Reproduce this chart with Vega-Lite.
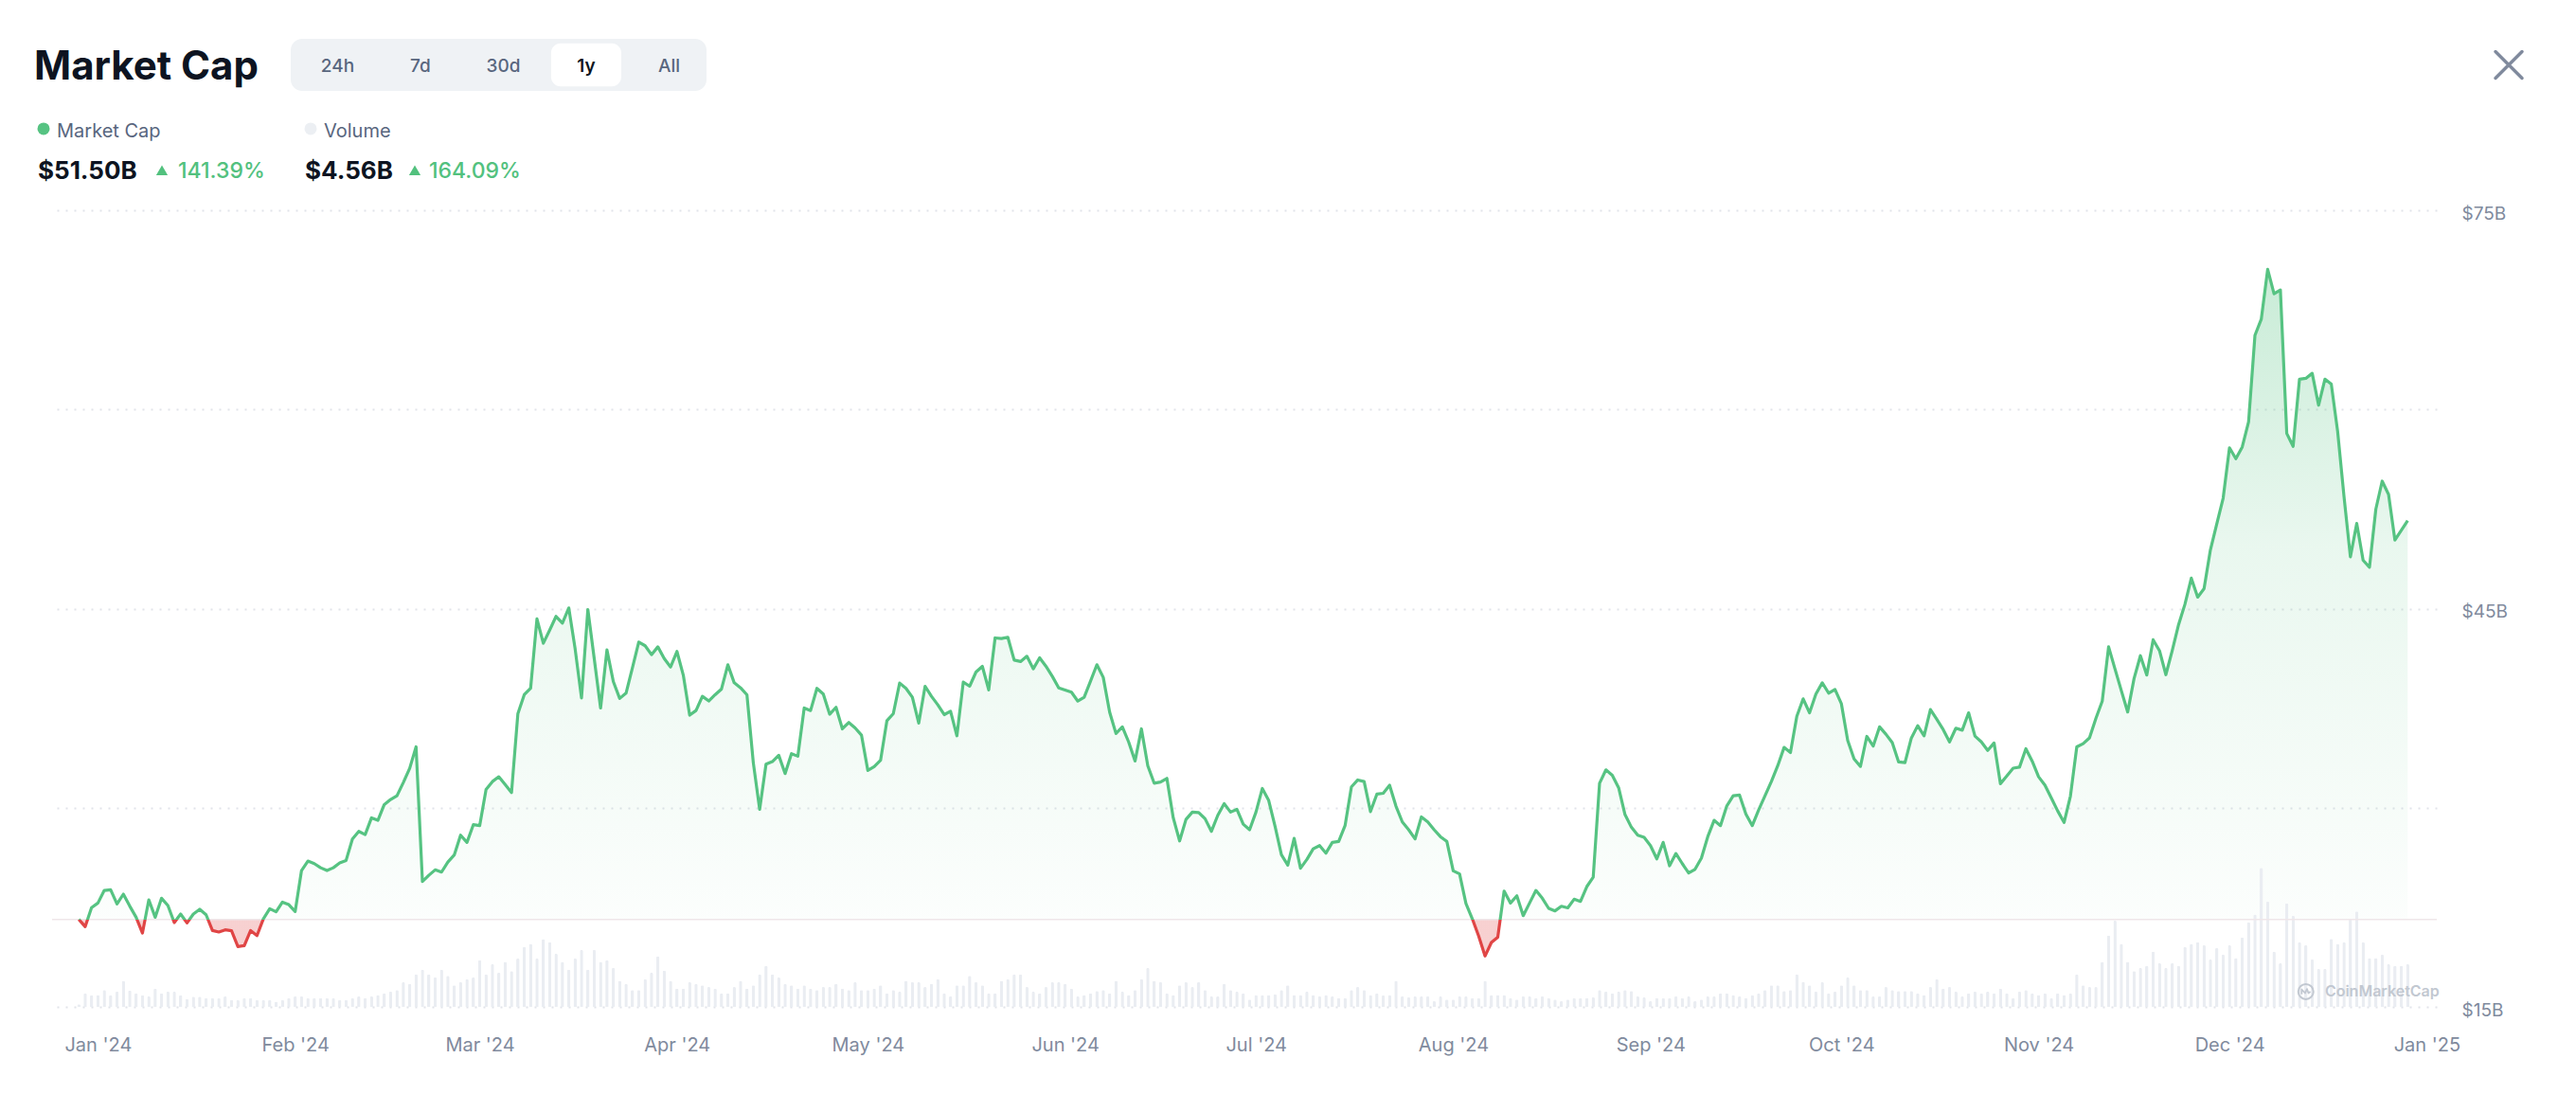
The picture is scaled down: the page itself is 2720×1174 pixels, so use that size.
{
  "$schema": "https://vega.github.io/schema/vega-lite/v6.json",
  "background": "white",
  "padding": {"left": 36, "top": 41, "right": 57, "bottom": 10},
  "config": {"view": {"stroke": null}, "font": "Inter", "concat": {"spacing": 0}},
  "datasets": {
    "buttons": [
      {"label": "24h"}, {"label": "7d"}, {"label": "30d"}, {"label": "1y"}, {"label": "All"}
    ],
    "legend": [
      {"series": "Market Cap", "value": "$51.50B", "change": "141.39%"},
      {"series": "Volume", "value": "$4.56B", "change": "164.09%"}
    ],
    "cap": [
      {"d":"2023-12-29","mc":21.59,"v":0.27},{"d":"2023-12-30","mc":21.04,"v":1.45},{"d":"2023-12-31","mc":22.47,"v":1.25},
      {"d":"2024-01-01","mc":22.82,"v":1.28},{"d":"2024-01-02","mc":23.77,"v":1.79},{"d":"2024-01-03","mc":23.82,"v":1.25},{"d":"2024-01-04","mc":22.75,"v":1.62},{"d":"2024-01-05","mc":23.49,"v":2.80},{"d":"2024-01-06","mc":22.59,"v":1.76},{"d":"2024-01-07","mc":21.75,"v":1.45},{"d":"2024-01-08","mc":20.56,"v":1.25},{"d":"2024-01-09","mc":23.06,"v":1.11},{"d":"2024-01-10","mc":21.75,"v":1.96},
      {"d":"2024-01-11","mc":23.18,"v":1.45},{"d":"2024-01-12","mc":22.63,"v":1.62},{"d":"2024-01-13","mc":21.35,"v":1.62},{"d":"2024-01-14","mc":21.99,"v":1.25},{"d":"2024-01-15","mc":21.32,"v":0.84},{"d":"2024-01-16","mc":21.99,"v":1.08},{"d":"2024-01-17","mc":22.35,"v":1.08},{"d":"2024-01-18","mc":21.94,"v":0.95},{"d":"2024-01-19","mc":20.75,"v":0.95},{"d":"2024-01-20","mc":20.64,"v":0.95},
      {"d":"2024-01-21","mc":20.80,"v":1.11},{"d":"2024-01-22","mc":20.73,"v":0.74},{"d":"2024-01-23","mc":19.54,"v":0.74},{"d":"2024-01-24","mc":19.61,"v":0.95},{"d":"2024-01-25","mc":20.75,"v":0.95},{"d":"2024-01-26","mc":20.37,"v":0.74},{"d":"2024-01-27","mc":21.63,"v":0.74},{"d":"2024-01-28","mc":22.39,"v":0.74},{"d":"2024-01-29","mc":22.16,"v":0.57},{"d":"2024-01-30","mc":22.89,"v":0.74},{"d":"2024-01-31","mc":22.70,"v":0.95},
      {"d":"2024-02-01","mc":22.18,"v":1.11},{"d":"2024-02-02","mc":25.27,"v":1.11},{"d":"2024-02-03","mc":25.98,"v":0.95},{"d":"2024-02-04","mc":25.79,"v":0.95},{"d":"2024-02-05","mc":25.48,"v":0.95},{"d":"2024-02-06","mc":25.27,"v":0.95},{"d":"2024-02-07","mc":25.48,"v":0.95},{"d":"2024-02-08","mc":25.84,"v":0.74},{"d":"2024-02-09","mc":26.03,"v":0.74},{"d":"2024-02-10","mc":27.65,"v":0.95},
      {"d":"2024-02-11","mc":28.22,"v":1.11},{"d":"2024-02-12","mc":27.98,"v":0.95},{"d":"2024-02-13","mc":29.24,"v":1.11},{"d":"2024-02-14","mc":29.05,"v":1.28},{"d":"2024-02-15","mc":30.24,"v":1.45},{"d":"2024-02-16","mc":30.62,"v":1.62},{"d":"2024-02-17","mc":30.90,"v":1.79},{"d":"2024-02-18","mc":31.90,"v":2.63},{"d":"2024-02-19","mc":32.97,"v":2.47},{"d":"2024-02-20","mc":34.59,"v":3.48},
      {"d":"2024-02-21","mc":24.44,"v":3.98},{"d":"2024-02-22","mc":24.91,"v":3.48},{"d":"2024-02-23","mc":25.32,"v":3.14},{"d":"2024-02-24","mc":25.15,"v":3.98},{"d":"2024-02-25","mc":25.91,"v":3.31},{"d":"2024-02-26","mc":26.44,"v":2.30},{"d":"2024-02-27","mc":27.93,"v":2.63},{"d":"2024-02-28","mc":27.39,"v":2.97},{"d":"2024-02-29","mc":28.72,"v":3.14},
      {"d":"2024-03-01","mc":28.65,"v":5.00},{"d":"2024-03-02","mc":31.38,"v":3.48},{"d":"2024-03-03","mc":31.97,"v":4.56},{"d":"2024-03-04","mc":32.33,"v":3.65},{"d":"2024-03-05","mc":31.74,"v":4.83},{"d":"2024-03-06","mc":31.14,"v":3.82},{"d":"2024-03-07","mc":37.08,"v":5.17},{"d":"2024-03-08","mc":38.51,"v":6.42},{"d":"2024-03-09","mc":38.99,"v":6.75},{"d":"2024-03-10","mc":44.22,"v":5.17},
      {"d":"2024-03-11","mc":42.39,"v":7.26},{"d":"2024-03-12","mc":43.38,"v":6.92},{"d":"2024-03-13","mc":44.41,"v":5.67},{"d":"2024-03-14","mc":43.91,"v":4.83},{"d":"2024-03-15","mc":45.05,"v":3.98},{"d":"2024-03-16","mc":41.96,"v":5.17},{"d":"2024-03-17","mc":38.27,"v":6.08},{"d":"2024-03-18","mc":44.93,"v":3.98},{"d":"2024-03-19","mc":41.24,"v":6.08},{"d":"2024-03-20","mc":37.51,"v":4.83},
      {"d":"2024-03-21","mc":41.89,"v":5.00},{"d":"2024-03-22","mc":39.51,"v":4.15},{"d":"2024-03-23","mc":38.23,"v":2.80},{"d":"2024-03-24","mc":38.63,"v":2.47},{"d":"2024-03-25","mc":40.53,"v":1.79},{"d":"2024-03-26","mc":42.48,"v":1.79},{"d":"2024-03-27","mc":42.20,"v":2.97},{"d":"2024-03-28","mc":41.53,"v":3.65},{"d":"2024-03-29","mc":42.12,"v":5.40},{"d":"2024-03-30","mc":41.24,"v":3.88},{"d":"2024-03-31","mc":40.60,"v":2.80},
      {"d":"2024-04-01","mc":41.77,"v":1.96},{"d":"2024-04-02","mc":39.98,"v":1.96},{"d":"2024-04-03","mc":36.97,"v":2.63},{"d":"2024-04-04","mc":37.32,"v":2.47},{"d":"2024-04-05","mc":38.39,"v":2.30},{"d":"2024-04-06","mc":38.04,"v":2.13},{"d":"2024-04-07","mc":38.51,"v":1.96},{"d":"2024-04-08","mc":38.94,"v":1.45},{"d":"2024-04-09","mc":40.77,"v":1.45},{"d":"2024-04-10","mc":39.41,"v":2.13},
      {"d":"2024-04-11","mc":39.03,"v":2.80},{"d":"2024-04-12","mc":38.51,"v":1.96},{"d":"2024-04-13","mc":33.40,"v":2.30},{"d":"2024-04-14","mc":29.88,"v":3.48},{"d":"2024-04-15","mc":33.28,"v":4.39},{"d":"2024-04-16","mc":33.47,"v":3.48},{"d":"2024-04-17","mc":33.95,"v":3.14},{"d":"2024-04-18","mc":32.57,"v":2.47},{"d":"2024-04-19","mc":34.07,"v":2.30},{"d":"2024-04-20","mc":33.88,"v":1.96},
      {"d":"2024-04-21","mc":37.51,"v":2.30},{"d":"2024-04-22","mc":37.32,"v":1.96},{"d":"2024-04-23","mc":38.99,"v":1.79},{"d":"2024-04-24","mc":38.56,"v":2.13},{"d":"2024-04-25","mc":37.04,"v":2.13},{"d":"2024-04-26","mc":37.56,"v":2.47},{"d":"2024-04-27","mc":35.94,"v":1.96},{"d":"2024-04-28","mc":36.42,"v":1.79},{"d":"2024-04-29","mc":36.01,"v":2.63},{"d":"2024-04-30","mc":35.47,"v":1.79},
      {"d":"2024-05-01","mc":32.81,"v":1.79},{"d":"2024-05-02","mc":33.09,"v":1.96},{"d":"2024-05-03","mc":33.57,"v":2.30},{"d":"2024-05-04","mc":36.56,"v":1.45},{"d":"2024-05-05","mc":37.08,"v":1.79},{"d":"2024-05-06","mc":39.39,"v":1.62},{"d":"2024-05-07","mc":38.99,"v":2.80},{"d":"2024-05-08","mc":38.32,"v":2.63},{"d":"2024-05-09","mc":36.37,"v":2.63},{"d":"2024-05-10","mc":39.15,"v":2.13},
      {"d":"2024-05-11","mc":38.39,"v":2.47},{"d":"2024-05-12","mc":37.75,"v":2.97},{"d":"2024-05-13","mc":37.01,"v":1.45},{"d":"2024-05-14","mc":37.27,"v":1.11},{"d":"2024-05-15","mc":35.42,"v":2.30},{"d":"2024-05-16","mc":39.46,"v":2.30},{"d":"2024-05-17","mc":39.15,"v":3.31},{"d":"2024-05-18","mc":40.22,"v":2.63},{"d":"2024-05-19","mc":40.65,"v":2.30},{"d":"2024-05-20","mc":38.87,"v":1.45},
      {"d":"2024-05-21","mc":42.79,"v":1.45},{"d":"2024-05-22","mc":42.74,"v":2.80},{"d":"2024-05-23","mc":42.84,"v":2.97},{"d":"2024-05-24","mc":41.12,"v":3.48},{"d":"2024-05-25","mc":41.01,"v":3.48},{"d":"2024-05-26","mc":41.41,"v":2.13},{"d":"2024-05-27","mc":40.46,"v":1.62},{"d":"2024-05-28","mc":41.29,"v":1.45},{"d":"2024-05-29","mc":40.65,"v":2.13},{"d":"2024-05-30","mc":39.89,"v":2.63},{"d":"2024-05-31","mc":39.03,"v":2.63},
      {"d":"2024-06-01","mc":38.87,"v":2.47},{"d":"2024-06-02","mc":38.70,"v":1.96},{"d":"2024-06-03","mc":38.03,"v":1.11},{"d":"2024-06-04","mc":38.32,"v":1.28},{"d":"2024-06-05","mc":39.53,"v":1.45},{"d":"2024-06-06","mc":40.77,"v":1.69},{"d":"2024-06-07","mc":39.82,"v":1.79},{"d":"2024-06-08","mc":37.20,"v":1.45},{"d":"2024-06-09","mc":35.59,"v":2.80},{"d":"2024-06-10","mc":36.09,"v":1.62},
      {"d":"2024-06-11","mc":34.94,"v":1.28},{"d":"2024-06-12","mc":33.52,"v":1.79},{"d":"2024-06-13","mc":35.94,"v":2.97},{"d":"2024-06-14","mc":33.16,"v":4.15},{"d":"2024-06-15","mc":31.85,"v":2.80},{"d":"2024-06-16","mc":31.93,"v":2.63},{"d":"2024-06-17","mc":32.21,"v":1.45},{"d":"2024-06-18","mc":29.24,"v":1.28},{"d":"2024-06-19","mc":27.50,"v":2.30},{"d":"2024-06-20","mc":29.12,"v":2.63},
      {"d":"2024-06-21","mc":29.67,"v":2.13},{"d":"2024-06-22","mc":29.64,"v":2.63},{"d":"2024-06-23","mc":29.17,"v":1.79},{"d":"2024-06-24","mc":28.22,"v":1.11},{"d":"2024-06-25","mc":29.43,"v":1.11},{"d":"2024-06-26","mc":30.31,"v":2.47},{"d":"2024-06-27","mc":29.67,"v":1.79},{"d":"2024-06-28","mc":29.88,"v":1.62},{"d":"2024-06-29","mc":28.76,"v":1.45},{"d":"2024-06-30","mc":28.34,"v":0.78},
      {"d":"2024-07-01","mc":29.67,"v":1.28},{"d":"2024-07-02","mc":31.45,"v":1.28},{"d":"2024-07-03","mc":30.55,"v":1.28},{"d":"2024-07-04","mc":28.60,"v":1.35},{"d":"2024-07-05","mc":26.46,"v":1.79},{"d":"2024-07-06","mc":25.67,"v":2.30},{"d":"2024-07-07","mc":27.69,"v":1.28},{"d":"2024-07-08","mc":25.44,"v":1.28},{"d":"2024-07-09","mc":26.10,"v":1.62},{"d":"2024-07-10","mc":26.91,"v":1.28},
      {"d":"2024-07-11","mc":27.15,"v":1.11},{"d":"2024-07-12","mc":26.58,"v":1.28},{"d":"2024-07-13","mc":27.39,"v":1.11},{"d":"2024-07-14","mc":27.46,"v":0.95},{"d":"2024-07-15","mc":28.65,"v":0.95},{"d":"2024-07-16","mc":31.57,"v":1.79},{"d":"2024-07-17","mc":32.09,"v":2.13},{"d":"2024-07-18","mc":31.97,"v":1.79},{"d":"2024-07-19","mc":29.71,"v":1.28},{"d":"2024-07-20","mc":31.02,"v":1.45},
      {"d":"2024-07-21","mc":31.09,"v":1.22},{"d":"2024-07-22","mc":31.69,"v":1.28},{"d":"2024-07-23","mc":30.12,"v":2.80},{"d":"2024-07-24","mc":28.93,"v":1.11},{"d":"2024-07-25","mc":28.34,"v":1.01},{"d":"2024-07-26","mc":27.65,"v":1.11},{"d":"2024-07-27","mc":29.31,"v":1.11},{"d":"2024-07-28","mc":28.93,"v":1.11},{"d":"2024-07-29","mc":28.34,"v":0.61},{"d":"2024-07-30","mc":27.81,"v":1.11},{"d":"2024-07-31","mc":27.46,"v":0.78},
      {"d":"2024-08-01","mc":25.25,"v":0.78},{"d":"2024-08-02","mc":25.01,"v":1.11},{"d":"2024-08-03","mc":22.78,"v":1.11},{"d":"2024-08-04","mc":21.63,"v":0.95},{"d":"2024-08-05","mc":20.33,"v":0.95},{"d":"2024-08-06","mc":18.83,"v":2.80},{"d":"2024-08-07","mc":19.85,"v":1.28},{"d":"2024-08-08","mc":20.25,"v":1.28},{"d":"2024-08-09","mc":23.72,"v":1.28},{"d":"2024-08-10","mc":22.82,"v":0.95},
      {"d":"2024-08-11","mc":23.37,"v":0.78},{"d":"2024-08-12","mc":21.87,"v":1.11},{"d":"2024-08-13","mc":22.82,"v":1.11},{"d":"2024-08-14","mc":23.77,"v":0.95},{"d":"2024-08-15","mc":23.18,"v":1.11},{"d":"2024-08-16","mc":22.42,"v":0.95},{"d":"2024-08-17","mc":22.23,"v":0.78},{"d":"2024-08-18","mc":22.58,"v":0.61},{"d":"2024-08-19","mc":22.46,"v":0.78},{"d":"2024-08-20","mc":23.11,"v":0.95},
      {"d":"2024-08-21","mc":22.94,"v":0.95},{"d":"2024-08-22","mc":24.06,"v":0.95},{"d":"2024-08-23","mc":24.77,"v":1.01},{"d":"2024-08-24","mc":31.85,"v":1.79},{"d":"2024-08-25","mc":32.85,"v":1.62},{"d":"2024-08-26","mc":32.45,"v":1.45},{"d":"2024-08-27","mc":31.50,"v":1.62},{"d":"2024-08-28","mc":29.48,"v":1.79},{"d":"2024-08-29","mc":28.53,"v":1.69},{"d":"2024-08-30","mc":27.93,"v":1.11},{"d":"2024-08-31","mc":27.77,"v":1.01},
      {"d":"2024-09-01","mc":27.15,"v":0.61},{"d":"2024-09-02","mc":26.15,"v":0.95},{"d":"2024-09-03","mc":27.39,"v":0.95},{"d":"2024-09-04","mc":25.63,"v":0.95},{"d":"2024-09-05","mc":26.55,"v":1.11},{"d":"2024-09-06","mc":25.79,"v":0.95},{"d":"2024-09-07","mc":25.08,"v":1.11},{"d":"2024-09-08","mc":25.36,"v":0.61},{"d":"2024-09-09","mc":26.20,"v":0.78},{"d":"2024-09-10","mc":27.81,"v":1.11},
      {"d":"2024-09-11","mc":29.05,"v":1.11},{"d":"2024-09-12","mc":28.65,"v":1.45},{"d":"2024-09-13","mc":30.14,"v":1.45},{"d":"2024-09-14","mc":30.90,"v":1.28},{"d":"2024-09-15","mc":30.95,"v":1.11},{"d":"2024-09-16","mc":29.52,"v":0.95},{"d":"2024-09-17","mc":28.65,"v":1.28},{"d":"2024-09-18","mc":29.83,"v":1.45},{"d":"2024-09-19","mc":30.90,"v":1.79},{"d":"2024-09-20","mc":31.97,"v":2.30},
      {"d":"2024-09-21","mc":33.16,"v":2.30},{"d":"2024-09-22","mc":34.54,"v":1.69},{"d":"2024-09-23","mc":34.16,"v":1.79},{"d":"2024-09-24","mc":36.89,"v":3.48},{"d":"2024-09-25","mc":38.20,"v":2.70},{"d":"2024-09-26","mc":37.15,"v":2.30},{"d":"2024-09-27","mc":38.56,"v":1.62},{"d":"2024-09-28","mc":39.41,"v":2.63},{"d":"2024-09-29","mc":38.63,"v":1.45},{"d":"2024-09-30","mc":38.91,"v":1.62},
      {"d":"2024-10-01","mc":37.84,"v":2.30},{"d":"2024-10-02","mc":35.06,"v":3.14},{"d":"2024-10-03","mc":33.68,"v":2.30},{"d":"2024-10-04","mc":33.11,"v":1.79},{"d":"2024-10-05","mc":35.37,"v":1.79},{"d":"2024-10-06","mc":34.64,"v":1.11},{"d":"2024-10-07","mc":36.09,"v":1.11},{"d":"2024-10-08","mc":35.54,"v":2.13},{"d":"2024-10-09","mc":34.90,"v":1.79},{"d":"2024-10-10","mc":33.45,"v":1.69},
      {"d":"2024-10-11","mc":33.40,"v":1.69},{"d":"2024-10-12","mc":35.25,"v":1.69},{"d":"2024-10-13","mc":36.18,"v":1.45},{"d":"2024-10-14","mc":35.42,"v":1.28},{"d":"2024-10-15","mc":37.39,"v":2.13},{"d":"2024-10-16","mc":36.66,"v":2.97},{"d":"2024-10-17","mc":35.89,"v":1.96},{"d":"2024-10-18","mc":34.96,"v":2.13},{"d":"2024-10-19","mc":35.99,"v":1.62},{"d":"2024-10-20","mc":35.84,"v":1.11},
      {"d":"2024-10-21","mc":37.15,"v":1.45},{"d":"2024-10-22","mc":35.40,"v":1.62},{"d":"2024-10-23","mc":34.96,"v":1.45},{"d":"2024-10-24","mc":34.32,"v":1.62},{"d":"2024-10-25","mc":34.88,"v":1.45},{"d":"2024-10-26","mc":31.81,"v":1.96},{"d":"2024-10-27","mc":32.39,"v":1.45},{"d":"2024-10-28","mc":32.98,"v":0.95},{"d":"2024-10-29","mc":33.06,"v":1.62},{"d":"2024-10-30","mc":34.44,"v":1.79},{"d":"2024-10-31","mc":33.50,"v":1.45},
      {"d":"2024-11-01","mc":32.33,"v":1.28},{"d":"2024-11-02","mc":31.69,"v":1.45},{"d":"2024-11-03","mc":30.73,"v":0.95},{"d":"2024-11-04","mc":29.76,"v":1.45},{"d":"2024-11-05","mc":28.89,"v":1.28},{"d":"2024-11-06","mc":30.87,"v":1.45},{"d":"2024-11-07","mc":34.58,"v":3.48},{"d":"2024-11-08","mc":34.82,"v":2.30},{"d":"2024-11-09","mc":35.26,"v":2.13},{"d":"2024-11-10","mc":36.72,"v":2.13},
      {"d":"2024-11-11","mc":38.03,"v":4.83},{"d":"2024-11-12","mc":42.12,"v":7.63},{"d":"2024-11-13","mc":40.46,"v":9.22},{"d":"2024-11-14","mc":38.82,"v":6.75},{"d":"2024-11-15","mc":37.21,"v":4.83},{"d":"2024-11-16","mc":39.73,"v":3.82},{"d":"2024-11-17","mc":41.45,"v":4.15},{"d":"2024-11-18","mc":39.99,"v":4.39},{"d":"2024-11-19","mc":42.65,"v":5.91},{"d":"2024-11-20","mc":41.83,"v":4.66},
      {"d":"2024-11-21","mc":40.02,"v":4.15},{"d":"2024-11-22","mc":41.83,"v":4.66},{"d":"2024-11-23","mc":43.79,"v":4.39},{"d":"2024-11-24","mc":45.33,"v":6.42},{"d":"2024-11-25","mc":47.29,"v":6.75},{"d":"2024-11-26","mc":45.86,"v":6.92},{"d":"2024-11-27","mc":46.50,"v":6.59},{"d":"2024-11-28","mc":49.42,"v":5.07},{"d":"2024-11-29","mc":51.38,"v":6.28},{"d":"2024-11-30","mc":53.31,"v":5.57},
      {"d":"2024-12-01","mc":57.11,"v":6.59},{"d":"2024-12-02","mc":56.29,"v":5.23},{"d":"2024-12-03","mc":57.17,"v":7.43},{"d":"2024-12-04","mc":59.07,"v":9.05},{"d":"2024-12-05","mc":65.58,"v":9.89},{"d":"2024-12-06","mc":66.81,"v":14.89},{"d":"2024-12-07","mc":70.55,"v":11.25},{"d":"2024-12-08","mc":68.71,"v":5.91},{"d":"2024-12-09","mc":69.00,"v":4.66},{"d":"2024-12-10","mc":58.19,"v":11.08},
      {"d":"2024-12-11","mc":57.22,"v":9.73},{"d":"2024-12-12","mc":62.28,"v":6.92},{"d":"2024-12-13","mc":62.34,"v":6.59},{"d":"2024-12-14","mc":62.72,"v":5.07},{"d":"2024-12-15","mc":60.32,"v":4.05},{"d":"2024-12-16","mc":62.28,"v":4.05},{"d":"2024-12-17","mc":61.90,"v":7.29},{"d":"2024-12-18","mc":58.33,"v":6.75},{"d":"2024-12-19","mc":53.43,"v":6.92},{"d":"2024-12-20","mc":48.90,"v":9.39},
      {"d":"2024-12-21","mc":51.41,"v":10.23},{"d":"2024-12-22","mc":48.64,"v":6.92},{"d":"2024-12-23","mc":48.11,"v":5.23},{"d":"2024-12-24","mc":52.49,"v":5.23},{"d":"2024-12-25","mc":54.60,"v":5.57},{"d":"2024-12-26","mc":53.60,"v":4.56},{"d":"2024-12-27","mc":50.16,"v":4.39},{"d":"2024-12-28","mc":50.89,"v":4.39},{"d":"2024-12-29","mc":51.62,"v":4.56}
    ]
  },
  "vconcat": [
    {
      "hconcat": [
        {
          "width": 252,
          "height": 55,
          "data": {"values": [{"t": "Market Cap"}]},
          "mark": {"type": "text", "align": "left", "baseline": "alphabetic", "dx": -19, "dy": 15, "fontSize": 42, "fontWeight": 700, "color": "#0d1421"},
          "encoding": {
            "x": {"field": "t", "type": "nominal", "axis": null, "bandPosition": 0, "scale": {"type": "band", "paddingInner": 0, "paddingOuter": 0}},
            "text": {"field": "t"}
          }
        },
        {
          "width": 439,
          "height": 55,
          "data": {"name": "buttons"},
          "encoding": {
            "x": {"field": "label", "type": "nominal", "axis": null, "scale": {"type": "band", "domain": ["24h", "7d", "30d", "1y", "All"], "paddingInner": 0.154, "paddingOuter": 0.0855, "align": 0.83}}
          },
          "layer": [
            {
              "data": {"values": [{}]},
              "mark": {"type": "rect", "color": "#eff2f5", "cornerRadius": 12},
              "encoding": {"x": null}
            },
            {
              "transform": [{"filter": "datum.label === '1y'"}],
              "mark": {"type": "rect", "color": "#ffffff", "cornerRadius": 10},
              "encoding": {
                "y": {"datum": "pill", "type": "nominal", "axis": null, "scale": {"type": "band", "paddingInner": 0, "paddingOuter": 0.102}}
              }
            },
            {
              "transform": [{"filter": "datum.label !== '1y'"}],
              "mark": {"type": "text", "baseline": "alphabetic", "dy": 7, "fontSize": 19, "fontWeight": 500, "color": "#58667e"},
              "encoding": {"text": {"field": "label"}}
            },
            {
              "transform": [{"filter": "datum.label === '1y'"}],
              "mark": {"type": "text", "baseline": "alphabetic", "dy": 7, "fontSize": 19, "fontWeight": 600, "color": "#0d1421"},
              "encoding": {"text": {"field": "label"}}
            }
          ]
        },
        {
          "width": 1889,
          "height": 55,
          "data": {"values": [{}]},
          "mark": {"type": "text", "text": " "}
        },
        {
          "width": 28,
          "height": 55,
          "data": {"values": [{}]},
          "mark": {"type": "point", "shape": "M-1,-1L1,1M1,-1L-1,1", "size": 784, "filled": false, "opacity": 1, "stroke": "#808a9d", "strokeWidth": 3.5, "strokeCap": "round"}
        }
      ],
      "spacing": 0,
      "bounds": "flush"
    },
    {
      "width": 564,
      "height": 181,
      "data": {"name": "legend"},
      "encoding": {
        "x": {"field": "series", "type": "nominal", "axis": null, "bandPosition": 0, "scale": {"type": "band", "domain": ["Market Cap", "Volume"], "paddingInner": 0, "paddingOuter": 0}}
      },
      "layer": [
        {
          "mark": {"type": "point", "shape": "circle", "filled": true, "size": 169, "opacity": 1},
          "encoding": {
            "xOffset": {"value": -9},
            "yOffset": {"value": 24},
            "y": {"datum": "names", "type": "nominal", "axis": null, "scale": {"type": "band", "domain": ["names", "values"], "paddingInner": 0, "paddingOuter": 1.1395, "align": 0.7837}},
            "color": {"field": "series", "type": "nominal", "legend": null, "scale": {"domain": ["Market Cap", "Volume"], "range": ["#56c382", "#eceff3"]}}
          }
        },
        {
          "mark": {"type": "text", "align": "left", "baseline": "alphabetic", "dx": 5, "dy": 10, "fontSize": 20, "color": "#58667e"},
          "encoding": {
            "y": {"datum": "names", "type": "nominal"},
            "text": {"field": "series"}
          }
        },
        {
          "mark": {"type": "text", "align": "left", "baseline": "alphabetic", "dx": -15, "dy": 9, "fontSize": 26, "fontWeight": 700, "color": "#0d1421"},
          "encoding": {
            "y": {"datum": "values", "type": "nominal"},
            "text": {"field": "value"}
          }
        },
        {
          "transform": [{"filter": "datum.series === 'Market Cap'"}],
          "mark": {"type": "point", "shape": "triangle-up", "filled": true, "size": 150, "opacity": 1, "color": "#52c17e"},
          "encoding": {"xOffset": {"value": 116}, "y": {"datum": "values", "type": "nominal"}}
        },
        {
          "transform": [{"filter": "datum.series === 'Volume'"}],
          "mark": {"type": "point", "shape": "triangle-up", "filled": true, "size": 150, "opacity": 1, "color": "#52c17e"},
          "encoding": {"xOffset": {"value": 101}, "y": {"datum": "values", "type": "nominal"}}
        },
        {
          "transform": [{"filter": "datum.series === 'Market Cap'"}],
          "mark": {"type": "text", "align": "left", "baseline": "alphabetic", "dx": 133, "dy": 8, "fontSize": 23, "fontWeight": 500, "color": "#52c17e"},
          "encoding": {"y": {"datum": "values", "type": "nominal"}, "text": {"field": "change"}}
        },
        {
          "transform": [{"filter": "datum.series === 'Volume'"}],
          "mark": {"type": "text", "align": "left", "baseline": "alphabetic", "dx": 116, "dy": 8, "fontSize": 23, "fontWeight": 500, "color": "#52c17e"},
          "encoding": {"y": {"datum": "values", "type": "nominal"}, "text": {"field": "change"}}
        }
      ]
    },
    {
      "width": 2518,
      "height": 841,
      "data": {"name": "cap"},
      "resolve": {"scale": {"y": "independent"}},
      "layer": [
        {
          "mark": {
            "type": "area",
            "opacity": 1,
            "fill": {
              "gradient": "linear", "x1": 0, "y1": 0, "x2": 0, "y2": 1,
              "stops": [
                {"offset": 0, "color": "rgba(86,195,130,0.32)"},
                {"offset": 0.4, "color": "rgba(86,195,130,0.13)"},
                {"offset": 0.9466, "color": "rgba(86,195,130,0.02)"},
                {"offset": 0.9466, "color": "rgba(224,69,69,0.25)"},
                {"offset": 1, "color": "rgba(224,69,69,0.25)"}
              ]
            }
          },
          "encoding": {
            "x": {
              "field": "d",
              "type": "temporal",
              "scale": {"type": "utc", "domain": [{"year": 2023, "month": 12, "date": 25, "hours": 13, "utc": true}, {"year": 2025, "month": 1, "date": 1, "hours": 20, "utc": true}]},
              "axis": {
                "title": null,
                "labelExpr": "utcFormat(datum.value, \"%b '%y\")",
                "values": [
                  {"year": 2024, "month": 1, "date": 1, "utc": true}, {"year": 2024, "month": 2, "date": 1, "utc": true}, {"year": 2024, "month": 3, "date": 1, "utc": true},
                  {"year": 2024, "month": 4, "date": 1, "utc": true}, {"year": 2024, "month": 5, "date": 1, "utc": true}, {"year": 2024, "month": 6, "date": 1, "utc": true},
                  {"year": 2024, "month": 7, "date": 1, "utc": true}, {"year": 2024, "month": 8, "date": 1, "utc": true}, {"year": 2024, "month": 9, "date": 1, "utc": true},
                  {"year": 2024, "month": 10, "date": 1, "utc": true}, {"year": 2024, "month": 11, "date": 1, "utc": true}, {"year": 2024, "month": 12, "date": 1, "utc": true},
                  {"year": 2025, "month": 1, "date": 1, "utc": true}
                ],
                "domain": false,
                "ticks": false,
                "grid": false,
                "labelFlush": false,
                "labelOverlap": false,
                "labelColor": "#808a9d",
                "labelFontSize": 20,
                "labelPadding": 30
              }
            },
            "y": {
              "field": "mc",
              "type": "quantitative",
              "scale": {"domain": [15, 75]},
              "axis": {
                "orient": "right",
                "title": null,
                "values": [15, 30, 45, 60, 75],
                "labelExpr": "datum.value % 30 == 15 ? '$' + datum.value + 'B' : ''",
                "grid": true,
                "gridColor": "#e1e4ea",
                "gridDash": [2, 7],
                "gridWidth": 2,
                "domain": false,
                "ticks": false,
                "labelPadding": 26,
                "labelColor": "#808a9d",
                "labelFontSize": 19,
                "labelAlign": "left",
                "labelBaseline": "middle",
                "labelOffset": 3
              }
            },
            "y2": {"datum": 21.59}
          }
        },
        {
          "mark": {"type": "bar", "width": 3.5, "color": "#eaedf2", "cornerRadiusEnd": 1.5},
          "encoding": {
            "x": {"field": "d", "type": "temporal"},
            "y": {"field": "v", "type": "quantitative", "scale": {"domain": [0, 85.3]}, "axis": null}
          }
        },
        {
          "transform": [{"filter": "utcyear(datum.d) === 2023 && utcdate(datum.d) === 29"}],
          "mark": {"type": "rule", "color": "#efe6e9", "strokeWidth": 1.5},
          "encoding": {
            "y": {"field": "mc", "type": "quantitative", "scale": {"domain": [15, 75]}, "axis": null}
          }
        },
        {
          "mark": {
            "type": "line",
            "strokeWidth": 3.2,
            "strokeJoin": "round",
            "stroke": {
              "gradient": "linear", "x1": 0, "y1": 0, "x2": 0, "y2": 1,
              "stops": [
                {"offset": 0, "color": "#56c382"},
                {"offset": 0.9466, "color": "#56c382"},
                {"offset": 0.9466, "color": "#e04545"},
                {"offset": 1, "color": "#e04545"}
              ]
            }
          },
          "encoding": {
            "x": {"field": "d", "type": "temporal"},
            "y": {"field": "mc", "type": "quantitative", "scale": {"domain": [15, 75]}, "axis": null}
          }
        },
        {
          "transform": [{"filter": "utcyear(datum.d) === 2024 && utcmonth(datum.d) === 11 && utcdate(datum.d) === 13"}],
          "mark": {"type": "point", "shape": "circle", "filled": false, "size": 256, "opacity": 1, "stroke": "#c2c8d1", "strokeWidth": 2},
          "encoding": {
            "x": {"field": "d", "type": "temporal"},
            "y": {"datum": 16.15, "type": "quantitative", "scale": {"domain": [15, 75]}, "axis": null}
          }
        },
        {
          "transform": [{"filter": "utcyear(datum.d) === 2024 && utcmonth(datum.d) === 11 && utcdate(datum.d) === 13"}],
          "mark": {"type": "point", "shape": "M-0.55,0.35L-0.55,-0.3L-0.1,0.2L0.15,-0.35L0.35,0.2L0.6,0", "filled": false, "size": 256, "opacity": 1, "stroke": "#c2c8d1", "strokeWidth": 1.8, "strokeJoin": "round"},
          "encoding": {
            "x": {"field": "d", "type": "temporal"},
            "y": {"datum": 16.15, "type": "quantitative", "scale": {"domain": [15, 75]}, "axis": null}
          }
        },
        {
          "transform": [{"filter": "utcyear(datum.d) === 2024 && utcmonth(datum.d) === 11 && utcdate(datum.d) === 16"}],
          "mark": {"type": "text", "align": "left", "baseline": "middle", "fontSize": 16, "fontWeight": 600, "color": "#c2c8d1"},
          "encoding": {
            "x": {"field": "d", "type": "temporal"},
            "y": {"datum": 16.15, "type": "quantitative", "scale": {"domain": [15, 75]}, "axis": null},
            "text": {"value": "CoinMarketCap"}
          }
        }
      ]
    }
  ],
  "spacing": 0,
  "bounds": "flush"
}
